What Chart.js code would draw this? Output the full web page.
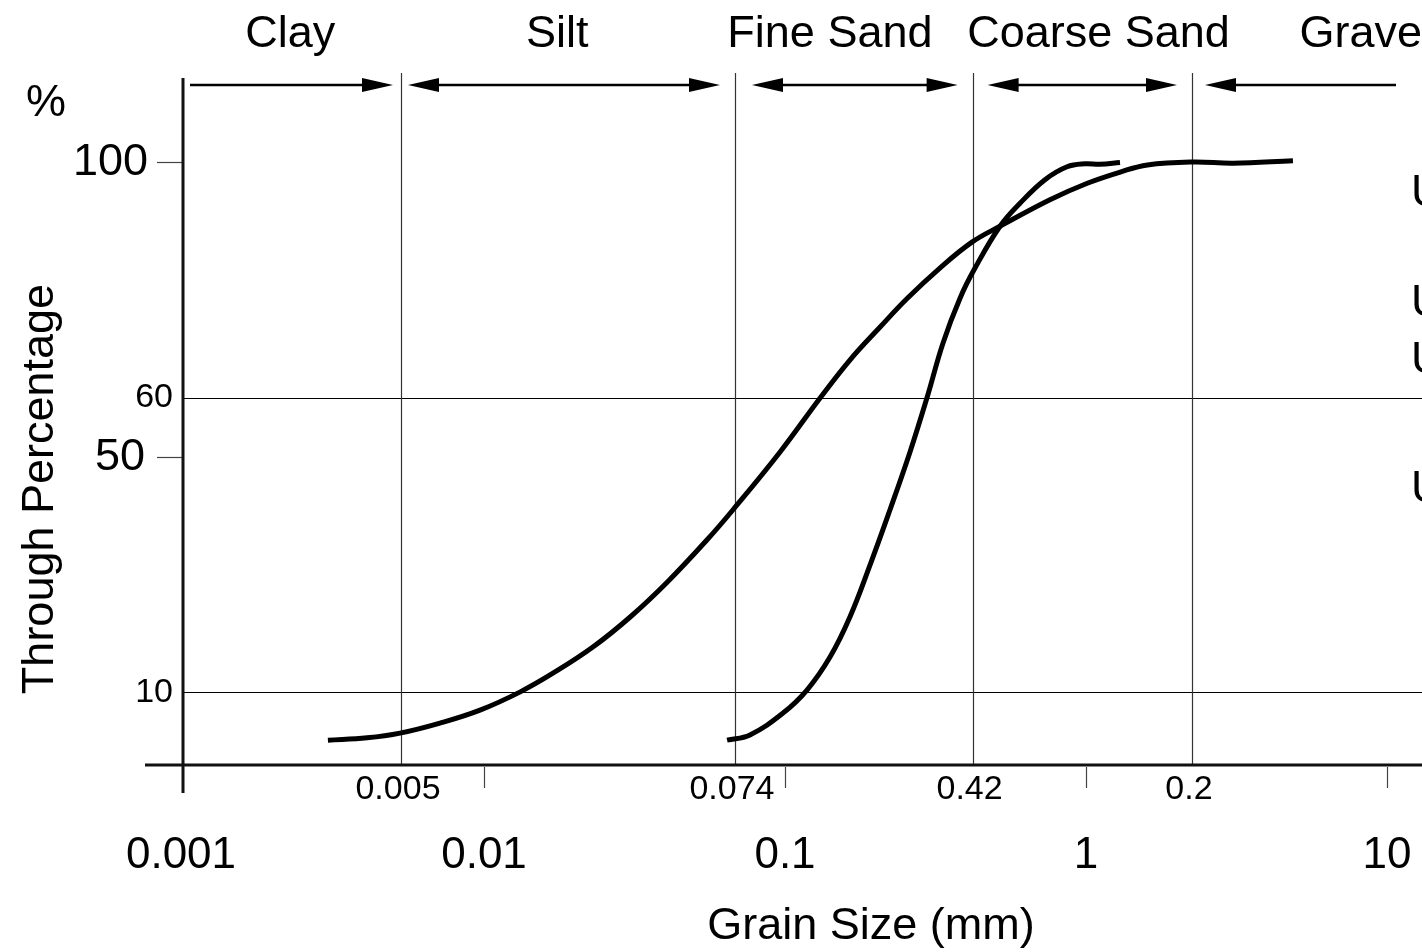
<!DOCTYPE html>
<html>
<head>
<meta charset="utf-8">
<script src="https://cdn.jsdelivr.net/npm/chart.js@4.4.0/dist/chart.umd.min.js"></script>
<style>
html,body{margin:0;padding:0;background:#fff;overflow:hidden}
canvas{display:block}
</style>
</head>
<body>
<canvas id="c" width="1422" height="952"></canvas>
<script>
// ---------- data ----------
const grainSizeA = [0.00303,0.00409,0.00526,0.00714,0.0097,0.0132,0.0170,0.0230,0.0306,0.0406,0.0551,0.0672,0.0963,0.131,0.1643,0.207,0.254,0.327,0.418,0.518,0.759,1.01,1.30,1.60,2.27,3.08,4.87];
const passingA   = [1.9,2.3,3.1,4.8,7.0,10.1,13.3,17.7,22.8,28.7,35.9,41.0,50.8,60.0,66.4,72.0,76.8,82.0,86.4,89.1,93.6,96.4,98.3,99.5,100.0,99.8,100.2];
const grainSizeB = [0.0642,0.0765,0.0985,0.1183,0.1411,0.1643,0.1916,0.2233,0.2602,0.2963,0.335,0.3815,0.4278,0.518,0.6036,0.7307,0.8652,0.9924,1.113,1.297];
const passingB   = [1.9,2.8,6.5,10.4,16.0,22.8,31.6,41.0,50.8,60.0,69.3,76.9,82.0,89.1,93.0,97.0,99.2,99.7,99.6,99.9];

const zoneNames      = ['Clay','Silt','Fine Sand','Coarse Sand','Gravel'];
const zoneLabelAt    = [0.00227,0.0175,0.141,1.10,8.5];
const boundaryValues = [0.0053,0.0682,0.42,2.25];
const boundaryLabels = ['0.005','0.074','0.42','0.2'];
const majorTicks      = [0.001,0.01,0.1,1,10];
const majorTickLabels = ['0.001','0.01','0.1','1','10'];
const yMajorTicks  = [100,50];
const yMajorLabels = ['100','50'];
const yGridValues  = [60,10];
const yGridLabels  = ['60','10'];
const noteTexts  = ['U','U','U','U'];
const noteLevels = [94.7,76.0,66.3,44.5];

// ---------- styles ----------
const FONT = '"Liberation Sans", Arial, Helvetica, sans-serif';
const zoneHeads  = [[false,true],[true,true],[true,true],[true,true],[true,false]];
const zoneGapL   = [7,7,17,15,13];
const zoneGapR   = [8,15,15,15,-9];

function seg(ctx,x1,y1,x2,y2){ctx.beginPath();ctx.moveTo(x1,y1);ctx.lineTo(x2,y2);ctx.stroke();}
function head(ctx,x,y,dir){
  ctx.beginPath();
  ctx.moveTo(x,y);
  ctx.lineTo(x-dir*31,y-7);
  ctx.lineTo(x-dir*31,y+7);
  ctx.closePath();ctx.fill();
}

const decor = {
  id:'decor',
  beforeDatasetsDraw(chart){
    const {ctx, chartArea:a, scales:{x,y}} = chart;
    ctx.save();
    // horizontal grid lines
    ctx.strokeStyle='#000'; ctx.lineWidth=1.2;
    yGridValues.forEach(v=>{const py=Math.round(y.getPixelForValue(v))+0.5; seg(ctx,a.left,py,a.right,py);});
    // vertical boundary lines
    ctx.strokeStyle='#333'; ctx.lineWidth=1.2;
    boundaryValues.forEach(v=>{const px=Math.round(x.getPixelForValue(v))+0.5; seg(ctx,px,a.top,px,a.bottom);});
    // y tick marks (100, 50)
    ctx.strokeStyle='#444'; ctx.lineWidth=1.2;
    yMajorTicks.forEach(v=>{const py=Math.round(y.getPixelForValue(v))+0.5; seg(ctx,a.left-26,py,a.left,py);});
    // bottom ticks
    majorTicks.forEach((v,i)=>{ if(i===0) return; const px=Math.round(x.getPixelForValue(v))+0.5; seg(ctx,px,a.bottom+2,px,a.bottom+23);});
    // axes
    ctx.strokeStyle='#111'; ctx.lineWidth=3;
    seg(ctx,a.left,a.top+5,a.left,a.bottom+28);
    seg(ctx,a.left-38,a.bottom,a.right,a.bottom);
    // zone arrows
    ctx.strokeStyle='#000'; ctx.fillStyle='#000'; ctx.lineWidth=2.5;
    const bpx = boundaryValues.map(v=>x.getPixelForValue(v));
    const ay = a.top+12;
    zoneNames.forEach((n,i)=>{
      const x1 = (i===0 ? a.left : bpx[i-1]) + zoneGapL[i];
      const x2 = (i===zoneNames.length-1 ? x.getPixelForValue(10) : bpx[i]) - zoneGapR[i];
      seg(ctx,x1+(zoneHeads[i][0]?10:0),ay,x2-(zoneHeads[i][1]?10:0),ay);
      if(zoneHeads[i][0]) head(ctx,x1,ay,-1);
      if(zoneHeads[i][1]) head(ctx,x2,ay,1);
    });
    ctx.restore();
  },
  afterDraw(chart){
    const {ctx, chartArea:a, scales:{x,y}} = chart;
    ctx.save();
    ctx.fillStyle='#000';
    // zone names
    ctx.font='45px '+FONT; ctx.textAlign='center'; ctx.textBaseline='alphabetic';
    zoneNames.forEach((n,i)=>ctx.fillText(n,x.getPixelForValue(zoneLabelAt[i]),a.top-26));
    // big x tick labels
    ctx.textBaseline='middle';
    ctx.font='44px '+FONT;
    majorTicks.forEach((v,i)=>ctx.fillText(majorTickLabels[i],x.getPixelForValue(v)+(i===0?-2:0),a.bottom+91));
    // x title
    ctx.font='45px '+FONT;
    ctx.fillText('Grain Size (mm)',871,a.bottom+162);
    // small boundary labels
    ctx.font='34px '+FONT;
    boundaryValues.forEach((v,i)=>ctx.fillText(boundaryLabels[i],x.getPixelForValue(v)-3,a.bottom+25));
    // y labels
    ctx.textAlign='right';
    yGridValues.forEach((v,i)=>ctx.fillText(yGridLabels[i],a.left-10,y.getPixelForValue(v)));
    ctx.font='45px '+FONT;
    yMajorTicks.forEach((v,i)=>ctx.fillText(yMajorLabels[i],a.left-35-(i?3:0),y.getPixelForValue(v)+1));
    // percent sign
    ctx.textAlign='center';
    ctx.fillText('%',46,a.top+31);
    // y title
    ctx.save();
    ctx.translate(53,489); ctx.rotate(-Math.PI/2);
    ctx.textBaseline='alphabetic';
    ctx.fillText('Through Percentage',0,0);
    ctx.restore();
    // right notes (clipped by the page edge)
    ctx.textAlign='left';
    noteTexts.forEach((t,i)=>ctx.fillText(t,a.right-11,y.getPixelForValue(noteLevels[i])));
    ctx.restore();
  }
};

const toPts = (xs,ys)=>xs.map((v,i)=>({x:v,y:ys[i]}));
const xMin = 0.001, decadePx = 301;
const xMax = Math.pow(10, Math.log10(xMin) + (1422-183)/decadePx);

new Chart(document.getElementById('c'),{
  type:'line',
  data:{datasets:[
    {label:'Sample A',data:toPts(grainSizeA,passingA),borderColor:'#000',borderWidth:5,pointRadius:0,tension:0.4,fill:false,clip:false,borderCapStyle:'butt'},
    {label:'Sample B',data:toPts(grainSizeB,passingB),borderColor:'#000',borderWidth:5,pointRadius:0,tension:0.4,fill:false,clip:false,borderCapStyle:'butt'}
  ]},
  options:{
    responsive:false, animation:false, devicePixelRatio:1,
    layout:{padding:{left:183,right:0,top:73,bottom:187}},
    plugins:{legend:{display:false},tooltip:{enabled:false}},
    scales:{
      x:{type:'logarithmic',min:xMin,max:xMax,bounds:'data',display:false},
      y:{type:'linear',min:-2.31,max:115.1,bounds:'data',display:false}
    }
  },
  plugins:[decor]
});
</script>
</body>
</html>
